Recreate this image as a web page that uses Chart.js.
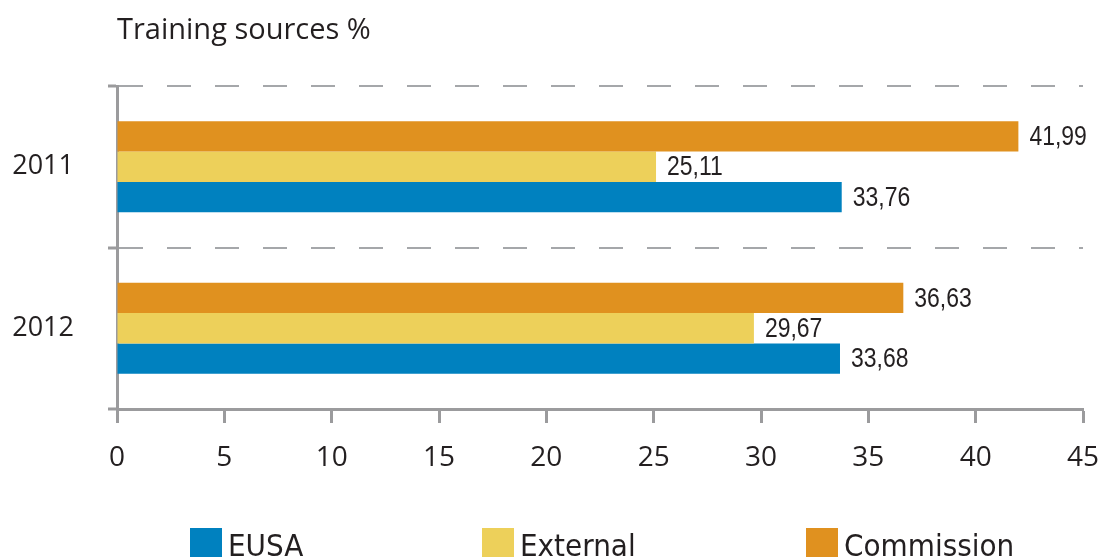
<!DOCTYPE html>
<html>
<head>
<meta charset="utf-8">
<script src="https://cdn.jsdelivr.net/npm/chart.js@4"></script>
<style>
  html, body { margin: 0; padding: 0; background: #fff; overflow: hidden; }
  #wrap { position: relative; width: 1103px; height: 557px; overflow: hidden; }
  #c { display: block; }
  .lg { position: absolute; top: 528px; display: flex; align-items: flex-start; }
  .lg .sw { width: 32px; height: 32px; }
  .lg .tx { margin-left: 6px; margin-top: 2px; font: 31px/31px "Liberation Sans Narrow", "DejaVu Sans Condensed", sans-serif; color: #231f20; white-space: nowrap; }
</style>
</head>
<body>
<div id="wrap">
  <canvas id="c" width="1103" height="557"></canvas>
</div>
<script>
// ---- data ----
const categories = ['2011', '2012'];
const commission = [41.99, 36.63];
const external = [25.11, 29.67];
const eusa = [33.76, 33.68];
const xTickValues = [0, 5, 10, 15, 20, 25, 30, 35, 40, 45];
const chartTitle = 'Training sources %';
const seriesNames = ['Commission', 'External', 'EUSA'];
const legendOrder = ['EUSA', 'External', 'Commission'];

// ---- styles ----
const seriesColors = { Commission: '#E0911F', External: '#EDD05A', EUSA: '#0081BF' };
const legendLeft = { EUSA: 190, External: 482, Commission: 806 };
const axisGray = '#9b9b9d';
const gridGray = '#a5a7aa';
const textColor = '#231f20';

const seriesData = { Commission: commission, External: external, EUSA: eusa };

const valueLabels = {
  id: 'valueLabels',
  afterDatasetsDraw(chart) {
    const ctx = chart.ctx;
    const sx = 0.82;
    chart.data.datasets.forEach((ds, i) => {
      chart.getDatasetMeta(i).data.forEach((bar, j) => {
        const txt = ds.data[j].toFixed(2).replace('.', ',');
        ctx.save();
        ctx.font = '28px "Liberation Sans", Arial, sans-serif';
        ctx.fillStyle = textColor;
        ctx.textBaseline = 'middle';
        ctx.textAlign = 'left';
        ctx.translate(bar.x + 11, bar.y + 1);
        ctx.scale(sx, 1);
        ctx.fillText(txt, 0, 0);
        ctx.restore();
      });
    });
  }
};

const chart = new Chart(document.getElementById('c'), {
  type: 'bar',
  data: {
    labels: categories,
    datasets: seriesNames.map(n => ({
      label: n,
      data: seriesData[n],
      backgroundColor: seriesColors[n],
      borderWidth: 0,
      categoryPercentage: 0.563,
      barPercentage: 1.0
    }))
  },
  options: {
    indexAxis: 'y',
    responsive: false,
    animation: false,
    layout: { padding: { left: 0, right: 20, top: 0, bottom: 0 } },
    plugins: {
      legend: { display: false },
      tooltip: { enabled: false },
      title: {
        display: true,
        text: chartTitle,
        align: 'start',
        fullSize: false,
        color: textColor,
        font: { family: '"Open Sans", sans-serif', size: 29, weight: 'normal', lineHeight: 1.2 },
        padding: { top: 13, bottom: 38.2 }
      }
    },
    scales: {
      x: {
        type: 'linear',
        min: 0,
        max: 45,
        afterBuildTicks: s => { s.ticks = xTickValues.map(v => ({ value: v })); },
        ticks: {
          color: textColor,
          font: { family: '"Open Sans", sans-serif', size: 28 },
          padding: 18,
          maxRotation: 0
        },
        grid: {
          drawOnChartArea: false,
          drawTicks: true,
          tickLength: 14,
          tickWidth: 3,
          tickColor: axisGray
        },
        border: { display: true, color: axisGray, width: 3 },
        afterFit: s => { s.height = 148; s.paddingRight = 20; s.paddingLeft = 0; }
      },
      y: {
        type: 'category',
        offset: true,
        grid: {
          offset: true,
          color: gridGray,
          lineWidth: 2,
          drawTicks: true,
          tickLength: 9,
          tickWidth: 3,
          tickColor: axisGray
        },
        border: { display: true, color: axisGray, width: 3, dash: [24, 24] },
        ticks: {
          color: textColor,
          font: { family: '"Open Sans", sans-serif', size: 27 },
          padding: 34
        },
        afterFit: s => { s.width = 117; }
      }
    }
  },
  plugins: [valueLabels]
});

// ---- HTML legend from the series ----
const wrap = document.getElementById('wrap');
legendOrder.forEach(n => {
  const item = document.createElement('div');
  item.className = 'lg';
  item.style.left = legendLeft[n] + 'px';
  const sw = document.createElement('div');
  sw.className = 'sw';
  sw.style.background = seriesColors[n];
  const tx = document.createElement('div');
  tx.className = 'tx';
  tx.textContent = n;
  item.appendChild(sw);
  item.appendChild(tx);
  wrap.appendChild(item);
});
</script>
</body>
</html>
